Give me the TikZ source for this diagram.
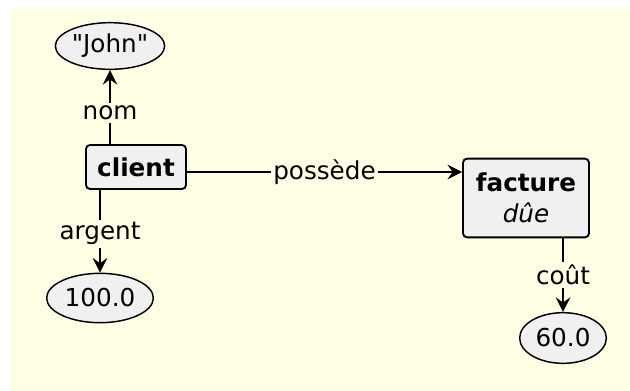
\documentclass[tikz,border=0pt]{standalone}
\usepackage{fontspec}
\setmainfont{DejaVu Sans}[Ligatures=TeXOff]
\usepackage{tikz}
\usetikzlibrary{arrows,arrows.meta,shapes,positioning}
\definecolor{bgyellow}{RGB}{255,255,230}
\definecolor{boxgray}{RGB}{240,240,240}

\begin{document}
\begin{tikzpicture}[x=0.75pt,y=-0.75pt,
    every node/.style={font=\fontsize{18.5}{22}\selectfont},
    classbox/.style={draw=black, line width=1.4pt, rounded corners=3pt, fill=boxgray, align=center, inner sep=0pt},
    valnode/.style={ellipse, draw=black, line width=1.1pt, fill=boxgray, inner sep=0pt},
    lbl/.style={fill=bgyellow, inner sep=2pt},
    link/.style={line width=1.2pt, -{Stealth[length=11pt,width=11pt,inset=4pt]}}]
                    \useasboundingbox (0,0) rectangle (630,390);
                    \fill [white] (-10,-10) rectangle (640,400);
                    \fill [bgyellow] (10,9) rectangle (640,400);
                    % nodes
                    \node [classbox, minimum width=75pt, minimum height=33pt] (client) at (136,167) {\textbf{client}};
                    \node [classbox, minimum width=94.5pt, minimum height=59pt] (facture) at (526,198) {\textbf{facture}\\[1pt] \textit{dûe}};
                    \node [valnode, minimum width=82pt, minimum height=35pt] (john) at (110,46) {"John"};
                    \node [valnode, minimum width=80pt, minimum height=37pt] (argentval) at (100,298) {100.0};
                    \node [valnode, minimum width=65pt, minimum height=38pt] (coutval) at (563,338) {60.0};
                    \coordinate (possede) at ([yshift=-3.75pt]client.east);
                    % edges
                    \draw [link] (client.north -| john.south) -- node [lbl, pos=0.42] {nom} (john.south);
                    \draw [link] (client.south -| argentval.north) -- node [lbl, pos=0.53] {argent} (argentval.north);
                    \draw [link] (possede) -- node [lbl, pos=0.5] {possède} (possede -| facture.west);
                    \draw [link] (facture.south -| coutval.north) -- node [lbl, pos=0.5] {coût} (coutval.north);
                \end{tikzpicture}
\end{document}
